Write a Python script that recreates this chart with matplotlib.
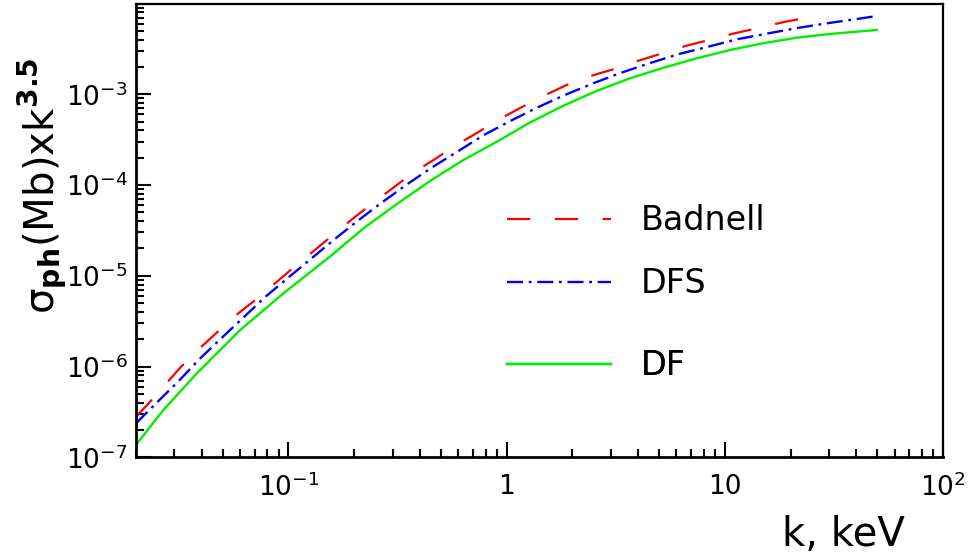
import matplotlib
matplotlib.use("Agg")
import matplotlib.pyplot as plt
from matplotlib.ticker import FixedLocator, FixedFormatter, LogLocator, NullFormatter
from matplotlib.lines import Line2D

# photoionization cross section times k^3.5
k_badnell = [0.02, 0.0225, 0.0273, 0.032, 0.0392, 0.0474, 0.0582, 0.0714, 0.0879, 0.107,
             0.132, 0.160, 0.198, 0.243, 0.304, 0.373, 0.471, 0.579, 0.739, 0.912,
             1.17, 1.47, 1.89, 2.40, 3.12, 3.99, 5.18, 6.62, 8.63, 11.1,
             14.5, 18.7, 24.4, 27.3]
s_badnell = [2.80e-7, 3.77e-7, 6.37e-7, 9.81e-7, 1.59e-6, 2.42e-6, 3.77e-6, 5.55e-6, 8.48e-6, 1.27e-5,
             1.92e-5, 2.82e-5, 4.30e-5, 6.29e-5, 9.44e-5, 1.37e-4, 1.94e-4, 2.71e-4, 3.81e-4, 5.21e-4,
             7.19e-4, 9.57e-4, 1.27e-3, 1.58e-3, 1.90e-3, 2.33e-3, 2.83e-3, 3.41e-3, 4.01e-3, 4.70e-3,
             5.42e-3, 6.26e-3, 7.06e-3, 7.48e-3]

k_dfs = [0.02, 0.025, 0.0314, 0.0391, 0.0492, 0.062, 0.0785, 0.0997, 0.1285, 0.163,
         0.210, 0.271, 0.352, 0.456, 0.601, 0.787, 1.04, 1.39, 1.85, 2.49,
         3.36, 4.55, 6.18, 8.39, 11.4, 15.6, 21.6, 29.5, 40.4, 50.0]
s_dfs = [2.37e-7, 4.04e-7, 6.93e-7, 1.21e-6, 2.05e-6, 3.45e-6, 5.89e-6, 9.53e-6, 1.58e-5, 2.54e-5,
         4.12e-5, 6.55e-5, 1.03e-4, 1.57e-4, 2.37e-4, 3.56e-4, 5.08e-4, 7.19e-4, 9.82e-4, 1.32e-3,
         1.73e-3, 2.21e-3, 2.78e-3, 3.34e-3, 4.04e-3, 4.66e-3, 5.38e-3, 6.06e-3, 6.76e-3, 7.29e-3]

k_df = [0.02, 0.0267, 0.0380, 0.0601, 0.0949, 0.155, 0.221, 0.314, 0.446, 0.634,
        0.902, 1.28, 1.82, 2.59, 3.68, 5.23, 7.44, 10.6, 15.0, 21.4,
        30.4, 49.7]
s_df = [1.37e-7, 3.32e-7, 8.42e-7, 2.53e-6, 6.41e-6, 1.63e-5, 3.34e-5, 6.18e-5, 1.11e-4, 1.89e-4,
        3.00e-4, 4.89e-4, 7.49e-4, 1.09e-3, 1.50e-3, 1.96e-3, 2.49e-3, 3.08e-3, 3.65e-3, 4.20e-3,
        4.62e-3, 5.11e-3]

x_ticks = [0.1, 1, 10, 100]
x_labels = [r"$10^{-1}$", "1", "10", r"$10^{2}$"]
y_ticks = [1e-7, 1e-6, 1e-5, 1e-4, 1e-3, 1e-2]
y_labels = [r"$10^{-7}$", r"$10^{-6}$", r"$10^{-5}$", r"$10^{-4}$", r"$10^{-3}$", ""]

plt.rcParams["mathtext.fontset"] = "dejavusans"

fig = plt.figure(figsize=(9.78, 5.57), dpi=100)
ax = fig.add_axes([136/978, 1-457.3/557, 807/978, 453.8/557])

red_dash = (10.5, 11)
blue_dash = (6.8, 2.4, 1.2, 2.4)
lb, = ax.plot(k_badnell, s_badnell, color="#ff0000", lw=1.6, dashes=red_dash)
ld, = ax.plot(k_dfs, s_dfs, color="#0000ff", lw=1.7, dashes=blue_dash)
lf, = ax.plot(k_df, s_df, color="#00ee00", lw=1.7)

ax.set_xscale("log")
ax.set_yscale("log")
ax.set_xlim(0.02, 100)
ax.set_ylim(1e-7, 1e-2)

ax.xaxis.set_major_locator(FixedLocator(x_ticks))
ax.xaxis.set_major_formatter(FixedFormatter(x_labels))
ax.xaxis.set_minor_locator(LogLocator(base=10, subs=range(2, 10), numticks=20))
ax.xaxis.set_minor_formatter(NullFormatter())
ax.yaxis.set_major_locator(FixedLocator(y_ticks))
ax.yaxis.set_major_formatter(FixedFormatter(y_labels))
ax.yaxis.set_minor_locator(LogLocator(base=10, subs=range(2, 10), numticks=20))
ax.yaxis.set_minor_formatter(NullFormatter())

ax.tick_params(which="both", direction="in", top=False, right=False, width=1.5)
ax.tick_params(which="major", length=11, labelsize=19)
ax.tick_params(which="minor", length=6)
ax.tick_params(axis="x", which="major", pad=12)
ax.tick_params(axis="y", which="major", pad=6)

for side in ["left", "bottom"]:
    ax.spines[side].set_linewidth(2.0)
for side in ["top", "right"]:
    ax.spines[side].set_linewidth(1.6)

fig.text(905/978, 1-535/557, "k, keV", fontsize=29, ha="right", va="center")
fig.text(42/978, 1-58/557, r"$\mathrm{σ}_{\mathbf{ph}}$(Mb)xk$^{\mathbf{3.5}}$",
         fontsize=29, rotation=90, ha="center", va="top")

# legend, one entry per box so the uneven spacing can be kept
entries = [(lb, "Badnell", 0.521, red_dash), (ld, "DFS", 0.382, blue_dash), (lf, "DF", 0.2015, None)]
for line, name, ypos, dash in entries:
    h = Line2D([], [], color=line.get_color(), lw=line.get_linewidth())
    if dash is not None:
        h.set_dashes(dash)
    leg = ax.legend([h], [name], loc="center left", bbox_to_anchor=(0.46, ypos),
                    frameon=False, fontsize=24, handlelength=3.1, handletextpad=0.9,
                    borderpad=0, borderaxespad=0)
    ax.add_artist(leg)

fig.savefig("out.png", dpi=100)
